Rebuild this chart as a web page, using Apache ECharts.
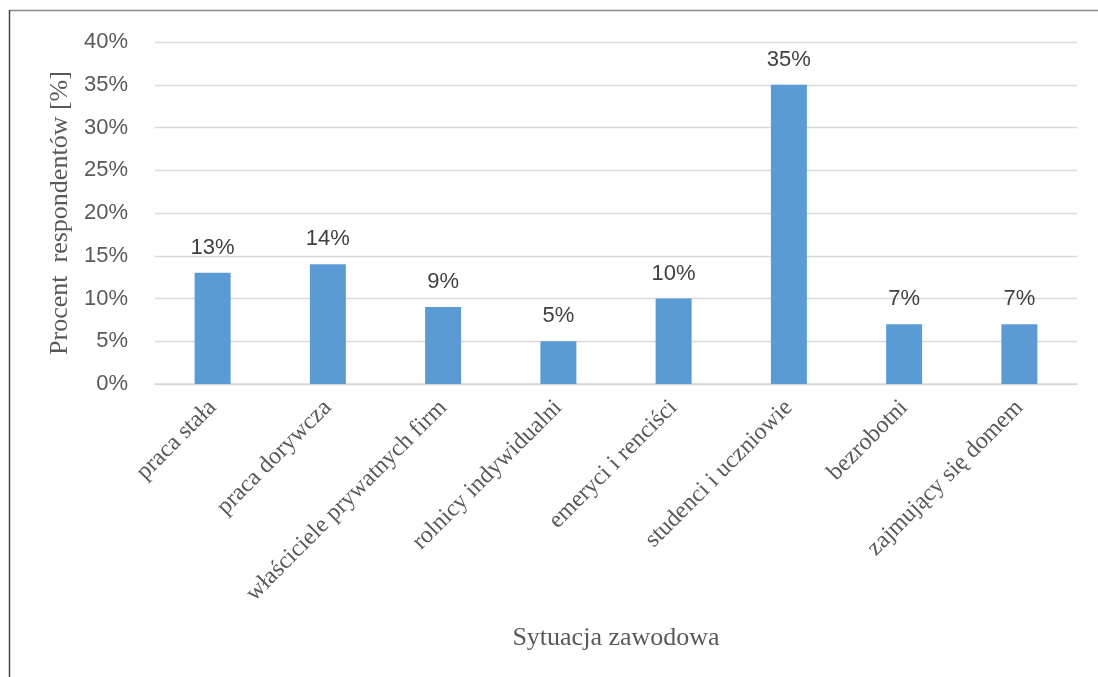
<!DOCTYPE html>
<html><head><meta charset="utf-8">
<script src="https://cdn.jsdelivr.net/npm/echarts@6/dist/echarts.min.js"></script>
<style>html,body{margin:0;padding:0;background:#fff}#c{width:1098px;height:677px}</style>
</head><body><div id="c"></div>
<script>
const categories = ['praca stała','praca dorywcza','właściciele prywatnych firm','rolnicy indywidualni','emeryci i renciści','studenci i uczniowie','bezrobotni','zajmujący się domem'];
const values = [13,14,9,5,10,35,7,7];
const yTicks = [0,5,10,15,20,25,30,35,40];
const chart = echarts.init(document.getElementById('c'));
chart.setOption({
  animation:false,
  backgroundColor:'#fff',
  graphic:[
    {type:'line',shape:{x1:9.5,y1:10.5,x2:1098,y2:10.5},style:{stroke:'#888',lineWidth:1.5}},
    {type:'line',shape:{x1:9.5,y1:10,x2:9.5,y2:677},style:{stroke:'#444',lineWidth:1.5}}
  ],
  grid:{left:155,right:21,top:42,bottom:293},
  xAxis:{type:'category',data:categories,
    axisLine:{lineStyle:{color:'#d9d9d9',width:1.5}},axisTick:{show:false},
    axisLabel:{rotate:45,interval:0,margin:20,fontFamily:'Liberation Serif',fontSize:24,color:'#595959'},
    name:'Sytuacja zawodowa',nameLocation:'middle',nameGap:241,
    nameTextStyle:{fontFamily:'Liberation Serif',fontSize:26,color:'#595959'}},
  yAxis:{type:'value',min:yTicks[0],max:yTicks[yTicks.length-1],interval:5,
    axisLine:{show:false},axisTick:{show:false},
    splitLine:{lineStyle:{color:'#d9d9d9',width:1.3}},
    axisLabel:{formatter:'{value}%',margin:27,fontFamily:'Liberation Sans',fontSize:22,color:'#595959'},
    name:'Procent  respondentów [%]',nameLocation:'middle',nameGap:80,nameRotate:90,
    nameTextStyle:{fontFamily:'Liberation Serif',fontSize:26,color:'#595959'}},
  series:[{type:'bar',data:values,barWidth:36,
    itemStyle:{color:'#5B9BD5'},
    label:{show:true,position:'top',distance:14,formatter:'{c}%',fontFamily:'Liberation Sans',fontSize:22,color:'#404040'}}]
});
</script></body></html>
